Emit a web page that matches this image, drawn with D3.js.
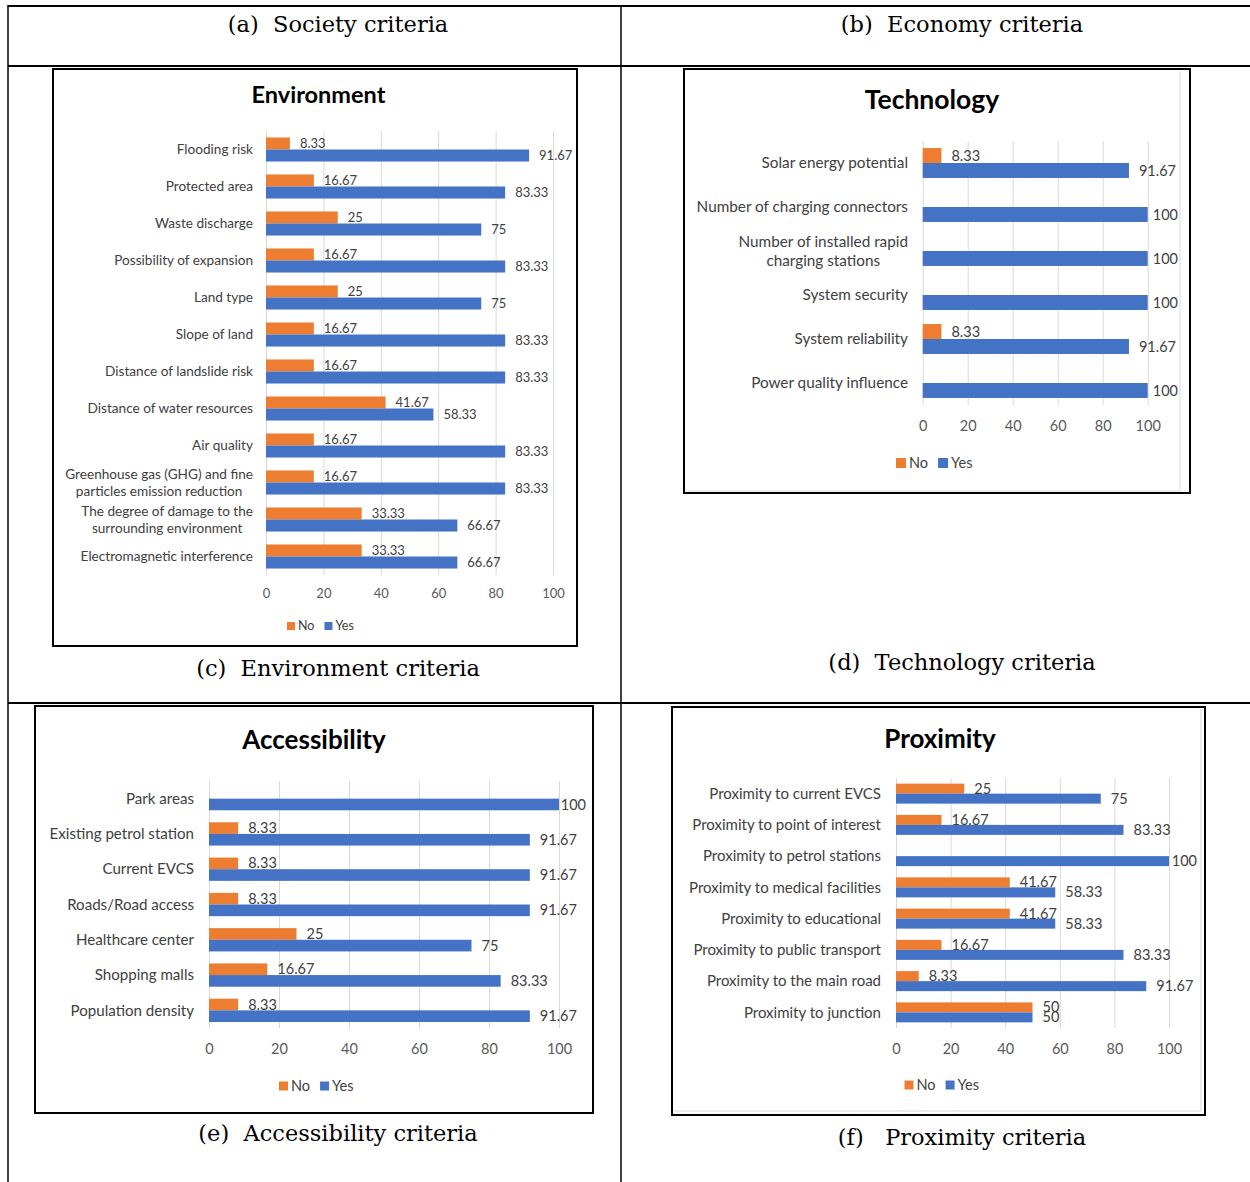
<!DOCTYPE html>
<html><head><meta charset="utf-8">
<script src="https://cdn.jsdelivr.net/npm/d3@7"></script>
<style>
body{margin:0;background:#fff}
svg{display:block}
text{font-family:Lato,'Open Sans',sans-serif}
.cap{font-family:'DejaVu Serif','Liberation Serif',serif;white-space:pre;fill:#000}
</style>
</head><body>
<svg id="c" width="1250" height="1182"></svg>
<script>
// ---------- DATA ----------
const seriesNames = ["No", "Yes"];
const xTicks = [0, 20, 40, 60, 80, 100];

const envCategories = ["Flooding risk", "Protected area", "Waste discharge", "Possibility of expansion", "Land type", "Slope of land", "Distance of landslide risk", "Distance of water resources", "Air quality", "Greenhouse gas (GHG) and fine\nparticles emission reduction", "The degree of damage to the\nsurrounding environment", "Electromagnetic interference"];
const envNo  = [8.33, 16.67, 25, 16.67, 25, 16.67, 16.67, 41.67, 16.67, 16.67, 33.33, 33.33];
const envYes = [91.67, 83.33, 75, 83.33, 75, 83.33, 83.33, 58.33, 83.33, 83.33, 66.67, 66.67];

const techCategories = ["Solar energy potential", "Number of charging connectors", "Number of installed rapid\ncharging stations", "System security", "System reliability", "Power quality influence"];
const techNo  = [8.33, null, null, null, 8.33, null];
const techYes = [91.67, 100, 100, 100, 91.67, 100];

const accCategories = ["Park areas", "Existing petrol station", "Current EVCS", "Roads/Road access", "Healthcare center", "Shopping malls", "Population density"];
const accNo  = [null, 8.33, 8.33, 8.33, 25, 16.67, 8.33];
const accYes = [100, 91.67, 91.67, 91.67, 75, 83.33, 91.67];

const proxCategories = ["Proximity to current EVCS", "Proximity to point of interest", "Proximity to petrol stations", "Proximity to medical facilities", "Proximity to educational", "Proximity to public transport", "Proximity to the main road", "Proximity to junction"];
const proxNo  = [25, 16.67, null, 41.67, 41.67, 16.67, 8.33, 50];
const proxYes = [75, 83.33, 100, 58.33, 58.33, 83.33, 91.67, 50];

const chartTitles = ["Environment", "Technology", "Accessibility", "Proximity"];
const captions = ["(a)  Society criteria", "(b)  Economy criteria", "(c)  Environment criteria", "(d)  Technology criteria", "(e)  Accessibility criteria", "(f)   Proximity criteria"];

// ---------- STYLE / LAYOUT ----------
const colors = {No: "#ED7D31", Yes: "#4472C4"};
const svg = d3.select("#c");
svg.append("rect").attr("width", 1250).attr("height", 1182).attr("fill", "#fff");

// table lines
const tbl = svg.append("g").attr("stroke", "#000");
[[8, 6, 1250, 6, 2], [8, 66, 1250, 66, 2], [8, 703, 1250, 703, 2],
 [8, 5, 8, 1182, 1.5], [621, 5, 621, 1182, 1.5]].forEach(l =>
  tbl.append("line").attr("x1", l[0]).attr("y1", l[1]).attr("x2", l[2]).attr("y2", l[3]).attr("stroke-width", l[4]));

const capPos = [[338, 24], [962, 24], [338, 668], [962, 662], [338, 1133], [962, 1137]];
captions.forEach((t, i) => svg.append("text").attr("class", "cap").attr("x", capPos[i][0]).attr("y", capPos[i][1])
  .attr("dy", "0.35em").attr("text-anchor", "middle").attr("font-size", 22.5).text(t));

const layouts = [
  {frame: [53, 69, 577, 646], titleX: 318.5, titleY: 103, titleSize: 23.5, x0: 266, x1: 553, top: 131, bottom: 575, pad: 0.35,
   labelRight: 253, catSize: 13.6, valSize: 13, tickSize: 13, tickY: 593, legendX: 287, legendY: 626, legendSq: 8, legendSize: 12.5, limitRight: 574, lineH: 16.5, inner: null},
  {frame: [684, 69, 1190, 493], titleX: 932, titleY: 109, titleSize: 26.5, x0: 922.7, x1: 1147.7, top: 141, bottom: 405, pad: 0.32,
   labelRight: 908, catSize: 15.3, valSize: 14.5, tickSize: 14.5, tickY: 426, legendX: 896, legendY: 463, legendSq: 10, legendSize: 14.5, limitRight: 1178, lineH: 19.5, inner: [1180, 491]},
  {frame: [35, 706, 593, 1113], titleX: 314, titleY: 749, titleSize: 26, x0: 209, x1: 559, top: 781, bottom: 1028, pad: 0.34,
   labelRight: 194, catSize: 15.1, valSize: 14.5, tickSize: 14.5, tickY: 1049, legendX: 279, legendY: 1086, legendSq: 9, legendSize: 14.5, limitRight: 586, lineH: 18, inner: null},
  {frame: [672, 707, 1205, 1115], titleX: 940, titleY: 748, titleSize: 26, x0: 896, x1: 1169, top: 778, bottom: 1028, pad: 0.36,
   labelRight: 881, catSize: 15, valSize: 14.5, tickSize: 14.5, tickY: 1049, legendX: 904.5, legendY: 1085, legendSq: 9, legendSize: 14.5, limitRight: 1197, lineH: 18, inner: [1201, 1111]}
];
const datasets = [
  [envCategories, envNo, envYes], [techCategories, techNo, techYes],
  [accCategories, accNo, accYes], [proxCategories, proxNo, proxYes]
];

function drawChart(cfg, title, cats, no, yes) {
  const g = svg.append("g");
  const [fx0, fy0, fx1, fy1] = cfg.frame;
  if (cfg.inner) {
    g.append("path").attr("d", `M${cfg.inner[0]},${fy0 + 2}V${cfg.inner[1]}H${fx0 + 2}`).attr("fill", "none").attr("stroke", "#d9d9d9");
  }
  g.append("rect").attr("x", fx0).attr("y", fy0).attr("width", fx1 - fx0).attr("height", fy1 - fy0)
    .attr("fill", "none").attr("stroke", "#000").attr("stroke-width", 2);
  g.append("text").attr("x", cfg.titleX).attr("y", cfg.titleY).attr("text-anchor", "middle")
    .attr("font-size", cfg.titleSize).attr("font-weight", "bold").attr("fill", "#000").text(title);

  const x = d3.scaleLinear().domain([0, 100]).range([cfg.x0, cfg.x1]);
  const y = d3.scaleBand().domain(cats).range([cfg.top, cfg.bottom]).paddingInner(cfg.pad).paddingOuter(cfg.pad / 2);
  const ys = d3.scaleBand().domain(seriesNames).range([0, y.bandwidth()]);

  // gridlines
  g.append("g").attr("transform", `translate(0,${cfg.bottom})`)
    .call(d3.axisBottom(x).tickValues(xTicks).tickSize(-(cfg.bottom - cfg.top)).tickFormat(""))
    .call(a => a.select(".domain").remove())
    .call(a => a.selectAll("line").attr("stroke", "#d9d9d9"));
  // tick labels
  g.append("g").attr("transform", `translate(0,${cfg.bottom})`)
    .call(d3.axisBottom(x).tickValues(xTicks).tickSize(0))
    .call(a => a.select(".domain").remove())
    .call(a => a.selectAll("text").attr("y", cfg.tickY - cfg.bottom).attr("dy", "0.35em")
      .attr("font-size", cfg.tickSize).attr("font-family", "Lato").attr("fill", "#595959"));

  const rows = cats.map((c, i) => ({c, vals: [{s: "No", v: no[i]}, {s: "Yes", v: yes[i]}].filter(d => d.v != null)}));
  const rg = g.selectAll(".row").data(rows).join("g").attr("transform", d => `translate(0,${y(d.c)})`);
  rg.selectAll("rect").data(d => d.vals).join("rect")
    .attr("x", x(0)).attr("y", d => ys(d.s)).attr("width", d => x(d.v) - x(0)).attr("height", ys.bandwidth())
    .attr("fill", d => colors[d.s]);
  rg.selectAll("text.val").data(d => d.vals).join("text").attr("class", "val")
    .attr("y", d => ys(d.s) + ys.bandwidth() / 2).attr("dy", "0.35em")
    .attr("font-size", cfg.valSize).attr("fill", "#404040").text(d => String(d.v))
    .attr("x", d => x(d.v) + 10)
    .each(function (d) {
      const w = this.getComputedTextLength();
      const xx = Math.min(x(d.v) + 10, cfg.limitRight - w);
      d3.select(this).attr("x", xx);
    });

  // category labels
  cats.forEach(c => {
    const lines = c.split("\n");
    const cy = y(c) + y.bandwidth() / 2;
    if (lines.length === 1) {
      g.append("text").attr("x", cfg.labelRight).attr("y", cy).attr("dy", "0.35em").attr("text-anchor", "end")
        .attr("font-size", cfg.catSize).attr("fill", "#404040").text(c);
    } else {
      const ts = lines.map((l, k) => g.append("text").attr("y", cy + (k - (lines.length - 1) / 2) * cfg.lineH).attr("dy", "0.35em")
        .attr("text-anchor", "middle").attr("font-size", cfg.catSize).attr("fill", "#404040").text(l));
      const mw = d3.max(ts, t => t.node().getComputedTextLength());
      ts.forEach(t => t.attr("x", cfg.labelRight - mw / 2));
    }
  });

  // legend
  let cx = cfg.legendX;
  seriesNames.forEach(s => {
    g.append("rect").attr("x", cx).attr("y", cfg.legendY - cfg.legendSq / 2).attr("width", cfg.legendSq).attr("height", cfg.legendSq).attr("fill", colors[s]);
    const t = g.append("text").attr("x", cx + cfg.legendSq + 3).attr("y", cfg.legendY).attr("dy", "0.35em")
      .attr("font-size", cfg.legendSize).attr("fill", "#404040").text(s);
    cx += cfg.legendSq + 3 + t.node().getComputedTextLength() + 10;
  });
}

layouts.forEach((cfg, i) => drawChart(cfg, chartTitles[i], ...datasets[i]));
</script>
</body></html>
